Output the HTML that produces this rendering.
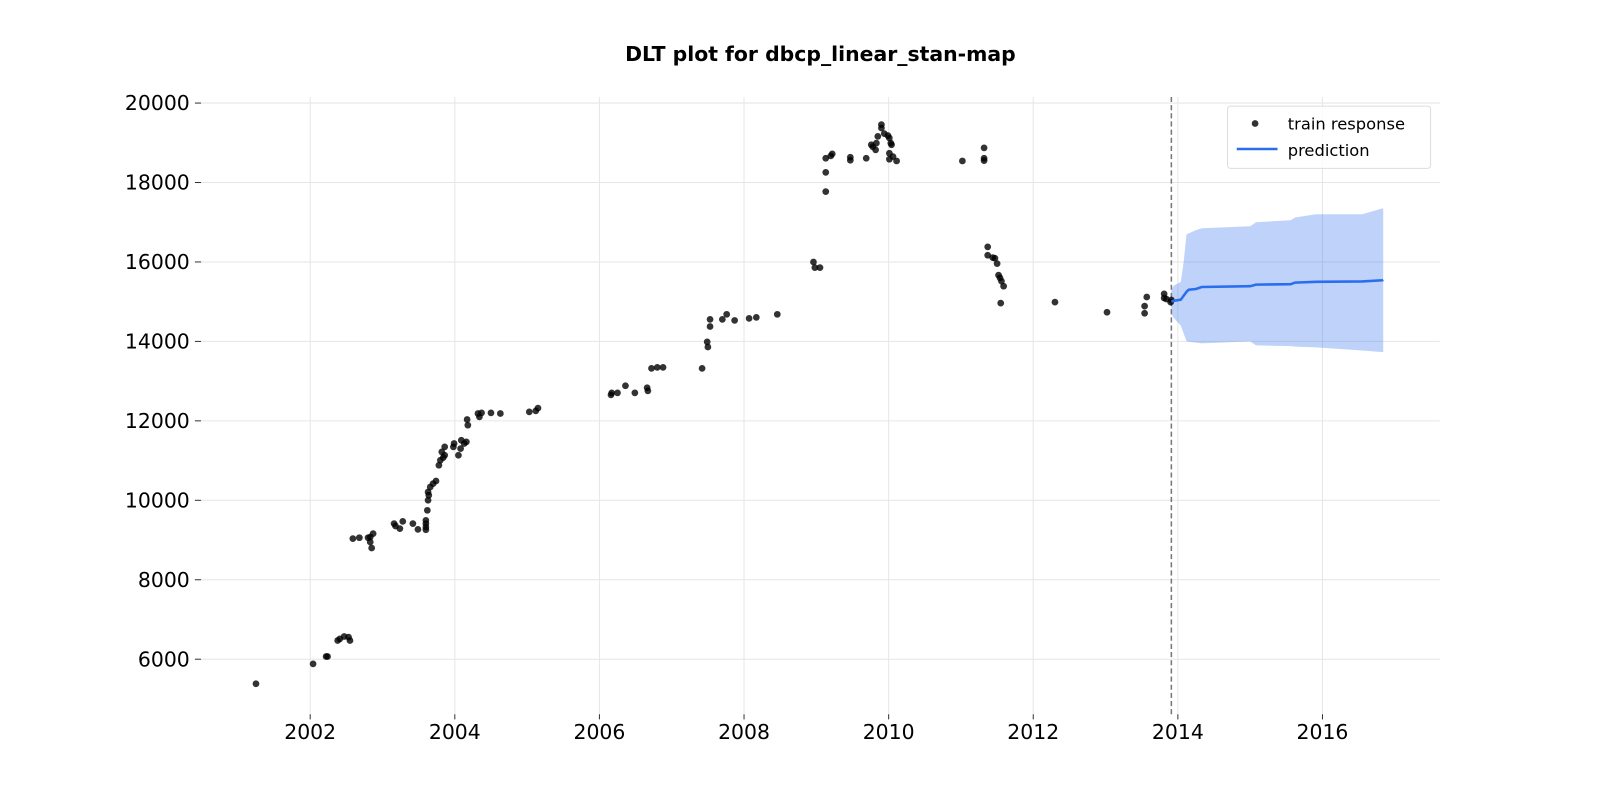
<!DOCTYPE html>
<html><head><meta charset="utf-8"><style>
body{margin:0;background:#fff;}
svg{display:block;font-family:"DejaVu Sans","Liberation Sans",sans-serif;}
</style></head><body>
<svg id="chart" width="1600" height="800" viewBox="0 0 1600 800" xmlns="http://www.w3.org/2000/svg">
<g transform="scale(1.0204)">
<text x="804" y="60" text-anchor="middle" font-size="20" font-weight="bold">DLT plot for dbcp_linear_stan-map</text>
<g id="grid"></g><g id="axes"></g><g id="band"></g><g id="pts"></g><g id="line"></g>
<g>
<rect x="1203" y="104" width="199" height="61" rx="3" fill="#fff" fill-opacity="0.8" stroke="#ddd"/>
<circle cx="1230" cy="121" r="3.3" fill="#000" fill-opacity="0.8"/>
<text x="1262" y="127" font-size="16">train response</text>
<line x1="1212" x2="1252" y1="146" y2="146" stroke="#2a6ef0" stroke-width="2.5"/>
<text x="1262" y="153" font-size="16">prediction</text>
</g>
</g>
</svg>
<script>
const trainDates=[2001.25,2002.04,2002.22,2002.24,2002.38,2002.41,2002.47,2002.53,2002.55,2002.59,2002.68,2002.8,2002.83,2002.87,2002.83,2002.85,
2003.16,2003.18,2003.24,2003.28,2003.42,2003.49,2003.6,2003.6,2003.6,2003.6,2003.62,2003.63,2003.64,2003.63,2003.66,2003.7,2003.74,
2003.78,2003.8,2003.84,2003.86,2003.82,2003.86,2003.98,2003.99,2004.05,2004.08,2004.09,2004.13,2004.16,2004.17,2004.18,2004.32,2004.34,2004.37,2004.5,2004.63,
2005.03,2005.12,2005.15,2006.16,2006.17,2006.25,2006.36,2006.49,2006.66,2006.67,2006.72,2006.8,2006.88,2007.42,2007.49,2007.5,2007.53,2007.53,
2007.7,2007.76,2007.87,2008.07,2008.17,2008.46,2009.13,2009.2,2009.22,2009.13,2009.13,2009.47,2009.47,2009.69,2009.76,2009.78,2009.82,2009.83,
2009.85,2009.9,2009.9,2009.94,2009.99,2010.01,2010.03,2010.04,2010.01,2010.06,2010.01,2010.11,2011.02,2011.32,2011.32,2011.32,
2008.96,2008.98,2009.05,2011.37,2011.37,2011.44,2011.47,2011.5,2011.52,2011.54,2011.56,2011.59,2011.55,2012.3,2013.02,2013.54,2013.54,2013.57,
2013.81,2013.81,2013.84,2013.9,2013.91];
const trainValues=[5382,5882,6067,6067,6470,6513,6571,6555,6470,9034,9059,9059,9076,9160,8950,8798,
9412,9353,9286,9470,9412,9269,9496,9412,9328,9260,9748,10000,10126,10210,10336,10420,10487,
10882,11008,11076,11134,11218,11345,11345,11429,11134,11302,11513,11429,11471,12034,11891,12185,12100,12202,12202,12185,
12227,12252,12320,12653,12704,12704,12884,12704,12833,12755,13320,13346,13346,13320,13988,13860,14374,14554,
14554,14682,14528,14580,14605,14682,18610,18670,18720,18254,17771,18636,18560,18610,18950,18900,18822,18992,
19160,19457,19373,19230,19180,19120,18992,18950,18737,18653,18585,18543,18543,18610,18550,18873,
16000,15856,15856,16381,16169,16110,16093,15958,15669,15600,15517,15390,14965,14990,14733,14888,14708,15119,
15196,15093,15068,14990,15042];
const predDates=[2013.91,2013.94,2014.04,2014.08,2014.12,2014.15,2014.25,2014.33,2015.0,2015.08,2015.56,2015.62,2015.91,2016.55,2016.83,2016.84];
const predMean=[15000,15020,15050,15150,15250,15300,15320,15370,15390,15430,15440,15480,15500,15510,15540,15550];
const predUpper=[15300,15400,15500,16000,16700,16720,16800,16850,16900,17000,17050,17120,17200,17200,17350,17350];
const predLower=[14700,14600,14400,14200,14000,13990,13970,13950,14000,13900,13880,13870,13850,13770,13730,13730];
const xTicks=[2002,2004,2006,2008,2010,2012,2014,2016];
const yTicks=[6000,8000,10000,12000,14000,16000,18000,20000];
const cutoff=2013.91;

const L=197,R=1411,T=95,B=700;
const X=v=>304+(v-2002)*70.86;
const Y=v=>101+(20000-v)/2000*77.86;
const NS='http://www.w3.org/2000/svg';
function mk(tag,attrs,parent,text){const e=document.createElementNS(NS,tag);for(const k in attrs)e.setAttribute(k,attrs[k]);if(text!==undefined)e.textContent=text;document.getElementById(parent).appendChild(e);return e;}
xTicks.forEach(t=>{
  const g=mk('line',{x1:X(t),x2:X(t),y1:T,y2:B,stroke:'#e6e6e6','stroke-width':1},'grid');
  
  
  const tk=mk('line',{x1:X(t),x2:X(t),y1:B,y2:B+5,stroke:'#333'},'axes');
  
  
  const l=mk('text',{x:X(t),y:724,'text-anchor':'middle','font-size':20},'axes',String(t));
  
  
});
yTicks.forEach(t=>{
  const g=mk('line',{x1:L,x2:R,y1:Y(t),y2:Y(t),stroke:'#e6e6e6','stroke-width':1},'grid');
  
  
  const tk=mk('line',{x1:L-6,x2:L,y1:Y(t),y2:Y(t),stroke:'#333'},'axes');
  
  
  const l=mk('text',{x:186,y:Y(t)+7,'text-anchor':'end','font-size':20},'axes',String(t));
  
  
});
let d='';
predDates.forEach((x,i)=>{d+=(i?'L':'M')+X(x)+','+Y(predUpper[i]);});
for(let i=predDates.length-1;i>=0;i--)d+='L'+X(predDates[i])+','+Y(predLower[i]);
const band=mk('path',{d:d+'Z',fill:'#2a6ef0','fill-opacity':0.3},'band');


const vl=mk('line',{x1:X(cutoff),x2:X(cutoff),y1:T,y2:B,stroke:'#777','stroke-width':1.5,'stroke-dasharray':'5,3'},'band');


trainDates.forEach((x,i)=>{
  const c=mk('circle',{cx:X(x),cy:Y(trainValues[i]),r:3.3,fill:'#000','fill-opacity':0.8},'pts');
  
  
});
const pl=mk('path',{d:predDates.map((x,i)=>(i?'L':'M')+X(x)+','+Y(predMean[i])).join(''),fill:'none',stroke:'#2a6ef0','stroke-width':2.5},'line');


</script>
</body></html>
